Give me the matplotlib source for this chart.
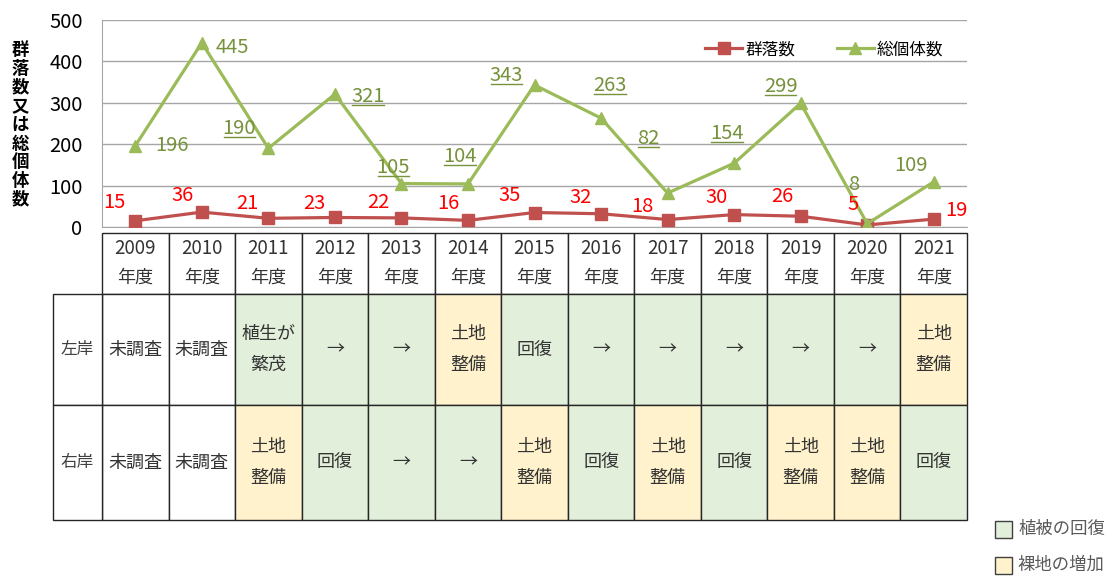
import matplotlib
matplotlib.use("Agg")
import matplotlib.pyplot as plt
from matplotlib.patches import Rectangle
from matplotlib.lines import Line2D

plt.rcParams['font.family'] = ['Noto Sans CJK JP', 'DejaVu Sans']

years = ['2009', '2010', '2011', '2012', '2013', '2014', '2015',
         '2016', '2017', '2018', '2019', '2020', '2021']
colonies = [15, 36, 21, 23, 22, 16, 35, 32, 18, 30, 26, 5, 19]
individuals = [196, 445, 190, 321, 105, 104, 343, 263, 82, 154, 299, 8, 109]
underlined = [False, False, True, True, True, True, True, True, True, True, True, False, False]

left_bank = ['未調査', '未調査', '植生が\n繁茂', '→', '→', '土地\n整備', '回復',
             '→', '→', '→', '→', '→', '土地\n整備']
left_state = ['n', 'n', 'g', 'g', 'g', 'y', 'g', 'g', 'g', 'g', 'g', 'g', 'y']
right_bank = ['未調査', '未調査', '土地\n整備', '回復', '→', '→', '土地\n整備',
              '回復', '土地\n整備', '回復', '土地\n整備', '土地\n整備', '回復']
right_state = ['n', 'n', 'y', 'g', 'g', 'g', 'y', 'g', 'y', 'g', 'y', 'y', 'g']

# label offsets in pixels (dx, dy)
ind_off = [(37, 0), (31, -5), (-29, 20), (33, -2), (-8, 16), (-8, 27), (-28, 9),
           (9, 33), (-19, 55), (-7, 30), (-20, 17), (-14, 39), (-23, 16)]
col_off = [(-21, 18), (-19, 17), (-21, 15), (-21, 14), (-23, 15), (-20, 17), (-25, 17),
           (-20, 16), (-25, 13), (-18, 17), (-18, 20), (-14, 20), (23, 9)]

W, H = 1116, 579
fig = plt.figure(figsize=(W / 100, H / 100), dpi=100)

RED = '#C0504D'
GREEN = '#9BBB59'
LBL_GREEN = '#76923C'
CELL = {'n': 'white', 'g': '#E2EFDA', 'y': '#FFF2CC'}

# ---- line chart ----
x0, x1, ytop, ybot = 102, 967, 20, 227
ax = fig.add_axes([x0 / W, 1 - ybot / H, (x1 - x0) / W, (ybot - ytop) / H])
xs = list(range(len(years)))
ax.plot(xs, colonies, color=RED, lw=2.3, marker='s', ms=8, label='群落数', zorder=3)
ax.plot(xs, individuals, color=GREEN, lw=2.3, marker='^', ms=9, label='総個体数', zorder=3)
ax.set_xlim(-0.5, len(years) - 0.5)
ax.set_ylim(0, 500)
ax.set_yticks(range(0, 501, 100))
ax.set_xticks([])
ax.tick_params(axis='y', length=0, labelsize=14.5, pad=14)
ax.grid(axis='y', color='#A6A6A6', lw=1)
ax.set_axisbelow(True)
for s in ['top', 'right']:
    ax.spines[s].set_visible(False)
for s in ['left', 'bottom']:
    ax.spines[s].set_color('#A6A6A6')

ind_texts = []
for i, v in enumerate(individuals):
    t = ax.annotate(str(v), (i, v), xytext=ind_off[i], textcoords='offset pixels',
                    ha='center', va='center', fontsize=14.5, color=LBL_GREEN)
    ind_texts.append(t)
for i, v in enumerate(colonies):
    ax.annotate(str(v), (i, v), xytext=col_off[i], textcoords='offset pixels',
                ha='center', va='center', fontsize=14.5, color='#FF0000')

leg = ax.legend(loc='upper right', bbox_to_anchor=(0.99, 0.97), ncol=2, frameon=False,
                fontsize=12, handlelength=2.2, columnspacing=2.5, handletextpad=0.2)

fig.text(20 / W, 1 - 125 / H, '\n'.join('群落数又は総個体数'), ha='center', va='center',
         fontsize=12.5, fontweight='bold', linespacing=1.05)

# ---- table below ----
tab = fig.add_axes([0, 0, 1, 1])
tab.set_xlim(0, W)
tab.set_ylim(H, 0)
tab.axis('off')

colw = (x1 - x0) / len(years)
hy0, hy1, r1, r2 = 233, 294, 405, 520
lx = 53
TXT = '#333333'

for i, yr in enumerate(years):
    cx = x0 + i * colw
    tab.add_patch(Rectangle((cx, hy0), colw, hy1 - hy0, fc='white', ec='#262626', lw=1))
    tab.text(cx + colw / 2, 249, yr, ha='center', va='center', fontsize=13.5, color=TXT)
    tab.text(cx + colw / 2, 278, '年度', ha='center', va='center', fontsize=13, color=TXT)
    for (top, bot, txt, st) in [(hy1, r1, left_bank[i], left_state[i]),
                                (r1, r2, right_bank[i], right_state[i])]:
        tab.add_patch(Rectangle((cx, top), colw, bot - top, fc=CELL[st], ec='#262626', lw=1))
        tab.text(cx + colw / 2, (top + bot) / 2, txt, ha='center', va='center',
                 fontsize=13, color=TXT, linespacing=1.95)

for (top, bot, txt) in [(hy1, r1, '左岸'), (r1, r2, '右岸')]:
    tab.add_patch(Rectangle((lx, top), x0 - lx, bot - top, fc='white', ec='#262626', lw=1))
    tab.text((lx + x0) / 2, (top + bot) / 2, txt, ha='center', va='center',
             fontsize=12, color='#404040')

# state legend
for yc, st, txt in [(529, 'g', '植被の回復'), (565, 'y', '裸地の増加')]:
    tab.add_patch(Rectangle((995, yc - 8.5), 17, 17, fc=CELL[st], ec='#404040', lw=1))
    tab.text(1018, yc, txt, ha='left', va='center', fontsize=12.5, color='#595959')

# underline selected total counts
fig.canvas.draw()
r = fig.canvas.get_renderer()
for t, u in zip(ind_texts, underlined):
    if not u:
        continue
    bb = t.get_window_extent(r)
    yline = bb.y0 + 2
    fig.add_artist(Line2D([(bb.x0 + 1) / W, (bb.x1 - 1) / W], [yline / H, yline / H],
                          color=LBL_GREEN, lw=1))

fig.savefig('out.png', dpi=100)
